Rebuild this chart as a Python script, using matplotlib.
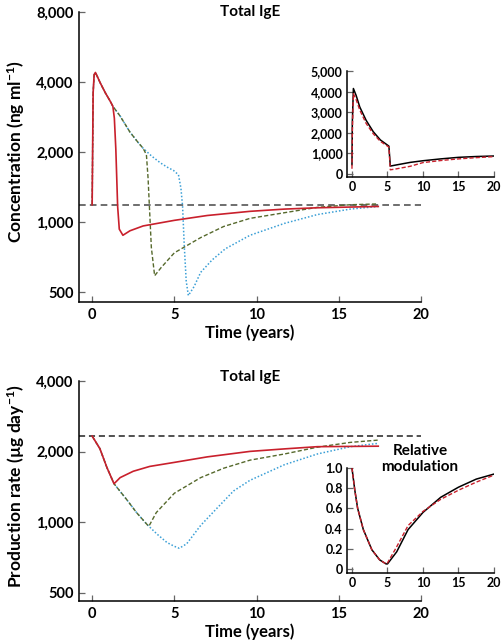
import matplotlib
matplotlib.use("Agg")
import matplotlib.pyplot as plt
from matplotlib.ticker import FixedLocator, NullLocator

plt.rcParams['font.family'] = ['Lato', 'DejaVu Sans']
plt.rcParams['font.weight'] = 'bold'
plt.rcParams['mathtext.fontset'] = 'custom'
plt.rcParams['mathtext.rm'] = 'Lato:bold'
plt.rcParams['mathtext.it'] = 'Lato:bold'
plt.rcParams['mathtext.bf'] = 'Lato:bold'

# ---- top panel: total IgE concentration (ng/ml) ----
conc_base = 1190
conc_red_t = [0, 0.06, 0.12, 0.2, 0.5, 0.8, 1.1, 1.26, 1.35, 1.44, 1.55, 1.65, 1.87, 2.3, 3.1,
              5, 7, 9.6, 11.7, 13.7, 17.4]
conc_red = [1190, 3600, 4300, 4400, 3960, 3600, 3310, 3150, 2800, 2060, 1170, 935, 880, 920, 965,
            1020, 1070, 1115, 1140, 1155, 1170]
conc_green_t = [0, 0.06, 0.12, 0.2, 0.5, 0.8, 1.1, 1.26, 1.7, 2.3, 2.8, 3.1, 3.3, 3.4, 3.5, 3.6,
                3.8, 4.2, 5, 6.6, 8, 9.6, 11.7, 13.7, 15.7, 17.4]
conc_green = [1190, 3600, 4300, 4400, 3960, 3600, 3310, 3150, 2860, 2440, 2200, 2080, 1950, 1550,
              1100, 780, 590, 640, 740, 860, 960, 1040, 1100, 1160, 1190, 1200]
conc_blue_t = [0, 0.06, 0.12, 0.2, 0.5, 0.8, 1.1, 1.26, 1.7, 2.3, 2.8, 3.1, 3.6, 4.15, 4.6, 4.95,
               5.25, 5.4, 5.5, 5.6, 5.72, 5.85, 6.2, 6.6, 7.3, 8.1, 9.6, 11.7, 13.7, 15.7, 17.4]
conc_blue = [1190, 3600, 4300, 4400, 3960, 3600, 3310, 3150, 2860, 2440, 2200, 2080, 1930, 1800,
             1720, 1670, 1600, 1400, 1170, 800, 560, 485, 530, 610, 690, 770, 880, 990, 1080,
             1140, 1170]

# inset: concentration, linear scale
ins1_t = [0, 0.05, 0.2, 0.6, 1.1, 2, 3, 4, 5, 5.2, 5.4, 6, 8.2, 10, 12.5, 15, 17.5, 20]
ins1_black = [450, 2500, 4150, 3800, 3250, 2600, 2050, 1650, 1400, 1350, 380, 420, 560, 640, 730,
              805, 845, 870]
ins1_red = [250, 2000, 3900, 3600, 3100, 2450, 1950, 1580, 1350, 1300, 200, 230, 370, 550, 650,
            730, 790, 840]

# ---- bottom panel: production rate (ug/day) ----
prod_base = 2330
prod_red_t = [0, 0.47, 0.9, 1.33, 1.5, 1.7, 2.5, 3.5, 5, 7, 9.6, 11.7, 13.7, 17.4]
prod_red = [2330, 2060, 1710, 1460, 1500, 1550, 1650, 1730, 1800, 1900, 2005, 2055, 2100, 2110]
prod_green_t = [0, 0.47, 0.9, 1.33, 2.1, 2.7, 3.33, 3.45, 3.9, 5, 6.6, 8, 9.6, 11.7, 13.7, 15.7,
                17.4]
prod_green = [2330, 2060, 1710, 1460, 1250, 1100, 980, 962, 1100, 1330, 1550, 1700, 1840, 1955,
              2090, 2190, 2240]
prod_blue_t = [0, 0.47, 0.9, 1.33, 2.1, 2.7, 3.33, 3.95, 4.55, 5.0, 5.3, 5.75, 6.6, 7.6, 8.6, 9.6,
               11.7, 13.7, 15.7, 17.4]
prod_blue = [2330, 2060, 1710, 1460, 1250, 1100, 980, 890, 820, 790, 775, 810, 970, 1150, 1360,
             1510, 1760, 1955, 2100, 2170]

# inset: relative modulation
ins2_t = [0, 0.4, 0.8, 1.6, 2.8, 3.9, 4.8, 5.0, 6.3, 7.9, 10, 12.5, 15, 17.5, 20]
ins2_black = [1.0, 0.78, 0.6, 0.39, 0.19, 0.09, 0.05, 0.05, 0.17, 0.39, 0.56, 0.71, 0.81, 0.89, 0.94]
ins2_red = [1.0, 0.78, 0.6, 0.39, 0.19, 0.09, 0.05, 0.06, 0.22, 0.43, 0.57, 0.69, 0.78, 0.86, 0.93]

RED = '#c9202c'
GREEN = '#56692c'
BLUE = '#3a9fd6'
W, H = 502, 644


def box(l, t, r, b):
    return [l / W, 1 - b / H, (r - l) / W, (b - t) / H]


def style(ax, size, pad):
    for s in ['top', 'right']:
        ax.spines[s].set_visible(False)
    for s in ['left', 'bottom']:
        ax.spines[s].set_linewidth(1.1)
    ax.tick_params(direction='in', length=4, width=0.9, color='#666666',
                   labelsize=size, pad=pad)
    ax.yaxis.set_minor_locator(NullLocator())


fig = plt.figure(figsize=(W / 100, H / 100), dpi=100)

# top main
ax1 = fig.add_axes(box(79, 12, 421, 302))
ax1.set_yscale('log')
ax1.axhline(conc_base, color='#555555', lw=1.2, ls=(0, (4, 2.5)))
ax1.plot(conc_blue_t, conc_blue, color=BLUE, lw=1.1, ls=(0, (1, 1.3)))
ax1.plot(conc_green_t, conc_green, color=GREEN, lw=1.0, ls=(0, (3, 1.6)))
ax1.plot(conc_red_t, conc_red, color=RED, lw=1.2)
ax1.set_xlim(-0.8, 20)
ax1.set_ylim(455, 8000)
ax1.yaxis.set_major_locator(FixedLocator([500, 1000, 2000, 4000, 8000]))
ax1.set_yticklabels(['500', '1,000', '2,000', '4,000', '8,000'])
ax1.set_xticks([0, 5, 10, 15, 20])
style(ax1, 10.5, 4)
ax1.set_xlabel('Time (years)', fontsize=12, fontweight='bold', labelpad=2)
ax1.set_ylabel('Concentration (ng ml$^{-1}$)', fontsize=12.5, fontweight='bold')
ax1.yaxis.set_label_coords(-0.152, 0.52)
ax1.text(0.5, 1.0, 'Total IgE', transform=ax1.transAxes, ha='center', va='center',
         fontsize=11, fontweight='bold')

# top inset
ax2 = fig.add_axes(box(347, 71, 494, 177))
ax2.plot(ins1_t, ins1_black, color='black', lw=1.1)
ax2.plot(ins1_t, ins1_red, color=RED, lw=1.0, ls=(0, (3, 1.5)))
ax2.set_xlim(-0.7, 20)
ax2.set_ylim(-150, 5000)
ax2.set_yticks([0, 1000, 2000, 3000, 4000, 5000])
ax2.set_yticklabels(['0', '1,000', '2,000', '3,000', '4,000', '5,000'])
ax2.set_xticks([0, 5, 10, 15, 20])
style(ax2, 9, 3)

# bottom main
ax3 = fig.add_axes(box(79, 381, 421, 601))
ax3.set_yscale('log')
ax3.axhline(prod_base, color='#222222', lw=1.1, ls=(0, (4, 2.5)))
ax3.plot(prod_blue_t, prod_blue, color=BLUE, lw=1.1, ls=(0, (1, 1.3)))
ax3.plot(prod_green_t, prod_green, color=GREEN, lw=1.0, ls=(0, (3, 1.6)))
ax3.plot(prod_red_t, prod_red, color=RED, lw=1.2)
ax3.set_xlim(-0.8, 20)
ax3.set_ylim(462, 4000)
ax3.yaxis.set_major_locator(FixedLocator([500, 1000, 2000, 4000]))
ax3.set_yticklabels(['500', '1,000', '2,000', '4,000'])
ax3.set_xticks([0, 5, 10, 15, 20])
style(ax3, 10.5, 4)
ax3.set_xlabel('Time (years)', fontsize=12, fontweight='bold', labelpad=2)
ax3.set_ylabel('Production rate (µg day$^{-1}$)', fontsize=12.5, fontweight='bold')
ax3.yaxis.set_label_coords(-0.152, 0.52)
ax3.text(0.5, 1.018, 'Total IgE', transform=ax3.transAxes, ha='center', va='center',
         fontsize=11, fontweight='bold')

# bottom inset
ax4 = fig.add_axes(box(347, 468, 494, 573))
ax4.plot(ins2_t, ins2_black, color='black', lw=1.1)
ax4.plot(ins2_t, ins2_red, color=RED, lw=1.0, ls=(0, (3, 1.5)))
ax4.set_xlim(-0.7, 20)
ax4.set_ylim(-0.04, 1.0)
ax4.set_yticks([0, 0.2, 0.4, 0.6, 0.8, 1.0])
ax4.set_yticklabels(['0', '0.2', '0.4', '0.6', '0.8', '1.0'])
ax4.set_xticks([0, 5, 10, 15, 20])
style(ax4, 9, 3)
fig.text(420 / W, 1 - 459 / H, 'Relative\nmodulation', ha='center', va='center',
         fontsize=11, fontweight='bold', linespacing=1.1)

fig.savefig('out.png', dpi=100)
